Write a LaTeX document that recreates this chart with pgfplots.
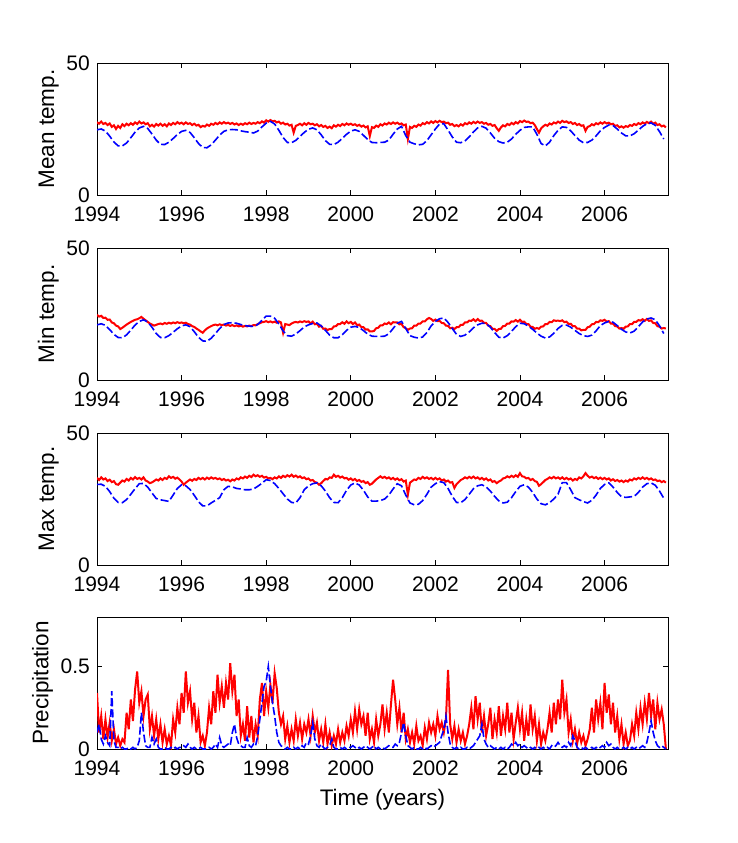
\documentclass[border=0pt]{standalone}
\usepackage{fontspec}
\setmainfont{Liberation Sans}
\usepackage{pgfplots}
\usepackage{pgfplotstable}
\pgfplotsset{compat=1.18}

% red series: one value every 0.05 year from 1994.00
\pgfplotstableread[row sep=\\,header=false]{
27.6\\27.0\\27.8\\26.9\\27.3\\26.5\\27.1\\25.8\\26.4\\25.0\\26.2\\25.4\\26.8\\26.1\\27.0\\26.4\\27.2\\26.6\\27.5\\26.9\\
27.8\\27.1\\27.5\\26.8\\27.2\\26.0\\26.6\\25.9\\26.9\\26.3\\27.0\\26.2\\26.8\\26.0\\27.1\\26.5\\27.3\\26.8\\27.6\\27.0\\
27.4\\26.8\\27.5\\26.9\\27.2\\26.5\\27.0\\26.3\\26.6\\25.7\\26.2\\25.9\\26.7\\26.2\\27.0\\26.6\\27.3\\26.8\\27.5\\27.0\\
27.6\\27.1\\27.4\\26.9\\27.3\\26.7\\27.1\\26.5\\27.0\\26.6\\27.2\\26.8\\27.4\\26.9\\27.3\\27.0\\27.6\\27.2\\27.9\\27.4\\
28.3\\27.8\\28.4\\27.9\\28.1\\27.5\\27.8\\27.0\\27.4\\26.7\\27.0\\26.3\\26.6\\23.6\\26.2\\26.5\\27.0\\26.4\\27.2\\26.6\\
27.3\\26.8\\27.0\\26.4\\26.8\\26.0\\26.5\\25.8\\26.2\\25.4\\25.9\\25.3\\26.4\\25.9\\26.6\\26.1\\26.9\\26.4\\27.1\\26.6\\
27.0\\26.5\\26.8\\26.2\\26.6\\25.9\\26.3\\25.6\\26.0\\22.3\\25.7\\25.4\\26.3\\25.8\\26.8\\26.3\\27.1\\26.7\\27.4\\26.9\\
27.5\\27.0\\27.4\\26.8\\27.1\\26.4\\26.7\\21.2\\25.8\\25.4\\26.2\\25.8\\26.7\\26.3\\27.2\\26.8\\27.6\\27.1\\27.9\\27.3\\
28.0\\27.5\\28.1\\27.6\\27.8\\27.2\\27.4\\26.6\\26.9\\26.1\\26.5\\26.0\\26.8\\26.3\\27.2\\26.8\\27.5\\27.0\\27.7\\27.2\\
27.8\\27.3\\27.6\\27.0\\27.3\\26.6\\26.9\\26.2\\26.5\\25.3\\24.3\\25.6\\26.4\\26.0\\26.9\\26.5\\27.3\\26.8\\27.6\\27.1\\
28.0\\27.6\\28.2\\27.7\\27.8\\27.2\\27.4\\26.5\\25.0\\23.6\\25.2\\26.0\\26.6\\26.2\\27.1\\26.7\\27.5\\27.1\\27.8\\27.3\\
28.1\\27.6\\27.9\\27.3\\27.6\\26.9\\27.3\\26.5\\26.9\\26.2\\26.4\\24.3\\25.8\\26.1\\26.8\\26.4\\27.2\\26.8\\27.5\\27.0\\
27.6\\27.1\\27.4\\26.8\\27.0\\26.2\\26.4\\25.6\\26.0\\25.5\\26.1\\25.8\\26.5\\26.2\\26.9\\26.5\\27.2\\26.8\\27.5\\27.0\\
27.7\\27.2\\27.8\\27.0\\27.4\\26.5\\26.8\\26.0\\26.3\\25.6\\
}\meanR

\pgfplotstableread[row sep=\\,header=false]{
24.7\\24.0\\24.3\\23.5\\23.6\\22.8\\22.9\\21.8\\21.5\\20.6\\20.3\\19.3\\19.8\\20.4\\21.0\\21.5\\22.0\\22.4\\22.8\\23.0\\
23.4\\23.9\\23.2\\22.6\\22.0\\21.4\\21.0\\20.6\\20.9\\21.2\\21.4\\21.1\\21.6\\21.3\\21.7\\21.4\\21.8\\21.5\\21.9\\21.6\\
21.8\\21.5\\21.7\\21.2\\21.0\\20.4\\20.1\\19.5\\19.0\\18.4\\17.9\\18.8\\19.5\\20.0\\20.4\\20.8\\21.0\\20.7\\21.1\\20.8\\
21.0\\20.6\\20.9\\20.5\\20.8\\20.4\\20.7\\20.3\\20.6\\20.2\\20.5\\20.3\\20.6\\20.4\\20.8\\20.7\\21.2\\21.5\\21.9\\22.0\\
22.3\\21.9\\22.2\\21.8\\22.1\\21.7\\22.2\\21.8\\17.9\\21.2\\21.0\\20.8\\21.4\\21.8\\22.0\\21.8\\22.2\\21.9\\22.3\\22.0\\
22.2\\21.4\\22.1\\21.1\\21.3\\20.2\\20.5\\19.4\\19.5\\18.9\\19.3\\19.3\\20.3\\20.4\\21.2\\21.2\\21.9\\21.3\\22.2\\21.5\\
22.0\\21.2\\21.8\\20.8\\21.0\\20.0\\20.0\\19.1\\19.2\\18.4\\18.4\\18.6\\19.6\\19.8\\20.7\\20.7\\21.4\\21.2\\21.8\\21.1\\
21.9\\21.8\\21.8\\21.1\\21.2\\20.0\\19.6\\19.0\\19.5\\19.6\\20.6\\20.6\\21.4\\21.4\\22.2\\22.2\\23.0\\23.5\\23.1\\22.4\\
22.9\\22.3\\22.4\\21.6\\21.5\\20.6\\20.5\\19.6\\19.8\\19.3\\20.0\\20.0\\20.9\\20.9\\21.8\\21.8\\22.5\\22.4\\23.0\\22.3\\
23.1\\22.4\\22.5\\21.6\\21.6\\20.6\\20.4\\19.4\\19.4\\18.6\\19.3\\19.4\\20.4\\20.5\\21.4\\21.4\\22.2\\22.1\\22.7\\22.1\\
22.8\\22.0\\22.1\\21.2\\21.2\\20.2\\20.1\\19.4\\19.7\\19.4\\20.2\\20.3\\21.2\\21.2\\22.0\\21.9\\22.6\\22.4\\22.5\\22.3\\
22.6\\21.9\\22.1\\21.2\\21.3\\20.4\\20.4\\19.5\\19.5\\18.8\\19.0\\19.0\\20.0\\20.2\\21.1\\21.2\\22.0\\21.9\\22.6\\22.4\\
22.8\\22.1\\22.3\\21.4\\21.4\\20.4\\20.3\\19.5\\19.7\\19.4\\20.2\\20.3\\21.2\\21.2\\22.0\\22.0\\22.7\\22.5\\23.0\\22.4\\
23.1\\22.4\\22.6\\21.6\\21.5\\20.4\\20.2\\19.5\\19.7\\19.5\\
}\minR

\pgfplotstableread[row sep=\\,header=false]{
33.0\\32.2\\33.2\\32.4\\32.8\\31.8\\32.3\\31.4\\31.8\\30.6\\30.4\\31.2\\32.0\\31.6\\32.6\\32.0\\33.0\\32.4\\33.3\\32.6\\
33.0\\32.4\\33.2\\32.0\\31.6\\31.0\\31.3\\31.8\\32.4\\32.0\\32.8\\32.2\\33.0\\32.6\\33.6\\33.0\\33.4\\32.7\\33.1\\32.4\\
31.6\\30.4\\31.2\\31.8\\32.4\\31.9\\32.6\\32.2\\33.0\\32.5\\33.0\\32.4\\33.1\\32.6\\33.2\\32.7\\33.0\\32.5\\32.8\\32.2\\
32.6\\32.0\\32.3\\31.7\\32.4\\32.0\\32.8\\32.4\\33.2\\32.8\\33.5\\33.0\\33.8\\33.3\\34.2\\33.6\\34.0\\33.4\\33.8\\33.1\\
33.4\\32.8\\33.0\\32.5\\33.2\\32.8\\33.6\\33.0\\33.8\\33.3\\34.0\\33.5\\34.2\\33.4\\33.9\\33.2\\33.6\\32.9\\33.2\\32.5\\
32.8\\32.0\\32.2\\31.4\\31.2\\30.4\\31.0\\31.8\\32.6\\32.4\\33.2\\33.0\\34.2\\33.4\\33.8\\33.1\\33.5\\32.8\\33.0\\32.3\\
32.8\\32.1\\32.6\\31.8\\32.2\\31.5\\31.8\\31.0\\31.4\\30.4\\30.8\\31.6\\32.4\\33.0\\33.6\\33.0\\33.4\\32.8\\33.2\\32.5\\
33.0\\32.3\\32.8\\32.1\\32.5\\31.6\\32.0\\26.6\\31.2\\31.8\\32.4\\32.2\\33.0\\32.6\\33.4\\32.8\\33.2\\32.6\\33.0\\32.4\\
33.0\\32.4\\32.8\\32.0\\32.4\\31.6\\32.0\\31.2\\31.4\\29.2\\30.6\\31.4\\32.2\\32.6\\33.2\\32.8\\33.4\\32.9\\33.5\\32.8\\
33.2\\32.5\\33.0\\32.3\\32.8\\32.0\\32.4\\31.5\\31.8\\31.0\\31.6\\32.0\\32.8\\33.0\\33.6\\33.2\\33.8\\33.3\\34.0\\33.4\\
34.8\\33.6\\33.4\\32.8\\33.0\\32.2\\32.6\\31.8\\31.5\\30.0\\30.6\\31.4\\32.2\\32.6\\33.2\\32.8\\33.4\\32.8\\33.2\\32.6\\
33.2\\32.5\\33.0\\32.4\\32.8\\32.0\\32.6\\32.2\\33.2\\32.8\\33.6\\34.8\\33.8\\33.1\\33.5\\32.9\\33.3\\32.6\\33.1\\32.5\\
33.0\\32.4\\32.8\\32.0\\32.5\\31.8\\32.2\\31.6\\32.0\\31.4\\32.0\\31.6\\32.4\\32.0\\32.8\\32.4\\33.0\\32.6\\33.2\\32.6\\
33.0\\32.4\\32.8\\32.2\\32.4\\31.8\\32.0\\31.4\\31.8\\31.2\\
}\maxR

\pgfplotstableread[row sep=\\,header=false]{
.34\\.10\\.20\\.06\\.18\\.07\\.16\\.05\\.12\\.03\\.07\\.02\\.06\\.04\\.22\\.12\\.30\\.17\\.36\\.47\\
.28\\.35\\.20\\.30\\.33\\.12\\.20\\.08\\.18\\.06\\.15\\.04\\.12\\.03\\.08\\.02\\.18\\.10\\.25\\.15\\
.34\\.22\\.47\\.28\\.35\\.18\\.28\\.10\\.20\\.04\\.08\\.02\\.10\\.25\\.15\\.35\\.22\\.45\\.28\\.38\\
.25\\.40\\.30\\.52\\.35\\.45\\.20\\.30\\.08\\.15\\.05\\.26\\.07\\.20\\.04\\.15\\.08\\.30\\.40\\.20\\
.35\\.25\\.39\\.28\\.46\\.37\\.22\\.15\\.20\\.06\\.14\\.04\\.12\\.05\\.18\\.08\\.16\\.06\\.15\\.10\\
.18\\.08\\.20\\.10\\.16\\.05\\.12\\.04\\.15\\.03\\.10\\.02\\.08\\.03\\.12\\.04\\.10\\.05\\.14\\.08\\
.18\\.10\\.23\\.12\\.24\\.15\\.20\\.08\\.22\\.06\\.12\\.04\\.18\\.08\\.15\\.27\\.12\\.22\\.10\\.27\\
.42\\.30\\.15\\.25\\.10\\.22\\.06\\.12\\.04\\.10\\.03\\.14\\.05\\.08\\.02\\.13\\.06\\.16\\.10\\.15\\
.08\\.20\\.12\\.16\\.10\\.18\\.48\\.15\\.06\\.14\\.04\\.12\\.05\\.10\\.03\\.08\\.15\\.25\\.12\\.32\\
.18\\.28\\.10\\.20\\.08\\.15\\.25\\.06\\.18\\.10\\.26\\.08\\.20\\.12\\.28\\.10\\.22\\.06\\.16\\.25\\
.12\\.22\\.05\\.18\\.08\\.27\\.12\\.20\\.05\\.15\\.03\\.10\\.05\\.12\\.22\\.10\\.28\\.15\\.30\\.18\\
.42\\.22\\.30\\.10\\.18\\.05\\.12\\.03\\.10\\.04\\.08\\.02\\.06\\.12\\.25\\.10\\.30\\.18\\.28\\.12\\
.40\\.22\\.33\\.15\\.28\\.10\\.20\\.06\\.15\\.03\\.10\\.02\\.05\\.15\\.08\\.22\\.12\\.25\\.15\\.28\\
.18\\.34\\.20\\.30\\.12\\.28\\.18\\.24\\.15\\0\\
}\precR

\pgfplotstableread[row sep=\\,header=false]{
.10\\.15\\.06\\.03\\.08\\.04\\.02\\.35\\.05\\.01\\.01\\.00\\.01\\.00\\.00\\.01\\.00\\.01\\.00\\.01\\
.05\\.22\\.10\\.02\\.01\\.01\\.07\\.03\\.06\\.01\\.00\\.00\\.01\\.00\\.00\\.01\\.00\\.01\\.00\\.01\\
.01\\.02\\.01\\.03\\.01\\.00\\.01\\.00\\.00\\.01\\.00\\.00\\.00\\.01\\.00\\.01\\.03\\.01\\.07\\.02\\
.01\\.02\\.03\\.02\\.10\\.15\\.07\\.03\\.02\\.01\\.01\\.07\\.02\\.01\\.03\\.02\\.08\\.18\\.28\\.38\\
.41\\.50\\.38\\.28\\.20\\.10\\.04\\.02\\.01\\.00\\.01\\.00\\.00\\.01\\.00\\.01\\.00\\.02\\.01\\.04\\
.03\\.08\\.16\\.06\\.02\\.01\\.03\\.01\\.00\\.01\\.02\\.06\\.01\\.00\\.00\\.01\\.00\\.01\\.00\\.01\\
.01\\.02\\.01\\.00\\.01\\.00\\.01\\.02\\.01\\.00\\.01\\.02\\.00\\.01\\.00\\.01\\.00\\.01\\.02\\.01\\
.01\\.03\\.02\\.04\\.10\\.16\\.08\\.02\\.01\\.00\\.01\\.00\\.00\\.01\\.00\\.01\\.00\\.01\\.02\\.01\\
.02\\.03\\.04\\.08\\.12\\.20\\.10\\.03\\.01\\.00\\.01\\.00\\.01\\.00\\.00\\.01\\.00\\.01\\.02\\.04\\
.06\\.08\\.15\\.06\\.03\\.01\\.02\\.01\\.00\\.01\\.00\\.01\\.00\\.01\\.00\\.01\\.03\\.02\\.04\\.02\\
.03\\.01\\.02\\.01\\.00\\.01\\.00\\.01\\.00\\.01\\.00\\.01\\.00\\.01\\.00\\.02\\.01\\.02\\.04\\.02\\
.01\\.02\\.01\\.04\\.02\\.08\\.05\\.01\\.00\\.01\\.00\\.01\\.00\\.00\\.01\\.00\\.01\\.00\\.01\\.02\\
.01\\.04\\.02\\.03\\.01\\.00\\.01\\.00\\.00\\.01\\.00\\.01\\.00\\.01\\.00\\.01\\.00\\.01\\.02\\.01\\
.04\\.10\\.17\\.10\\.05\\.02\\.01\\.02\\.01\\.00\\
}\precB

% blue series: one value every 0.1 year from 1994.0
\pgfplotstableread[row sep=\\,header=false]{
24.7\\25.0\\24.2\\22.3\\20.1\\18.6\\18.6\\19.7\\21.7\\23.8\\
25.4\\26.0\\25.2\\23.1\\20.8\\19.2\\19.1\\20.0\\21.4\\22.9\\
24.1\\24.5\\23.7\\21.7\\19.5\\18.0\\17.9\\19.0\\20.8\\22.7\\
24.1\\24.7\\24.8\\24.7\\24.3\\24.0\\23.8\\23.5\\24.2\\25.8\\
27.2\\27.9\\26.9\\24.5\\21.8\\19.9\\19.8\\20.7\\22.2\\23.7\\
24.9\\25.4\\24.7\\22.8\\20.6\\19.2\\19.1\\20.0\\21.5\\23.0\\
24.2\\24.7\\24.1\\22.6\\21.0\\19.9\\19.8\\19.9\\20.0\\20.8\\
23.0\\25.0\\26.0\\22.5\\20.0\\19.4\\19.0\\19.2\\20.6\\22.8\\
25.0\\26.9\\27.0\\24.6\\22.0\\20.0\\19.8\\20.5\\22.0\\23.9\\
25.4\\26.0\\25.3\\23.5\\21.5\\20.2\\19.7\\20.0\\21.2\\23.0\\
24.5\\25.6\\25.8\\25.8\\23.0\\19.5\\18.6\\20.0\\22.5\\24.5\\
25.8\\25.6\\24.3\\22.5\\20.8\\19.8\\19.9\\20.8\\22.4\\24.3\\
25.6\\26.5\\26.3\\25.0\\23.5\\22.4\\22.4\\23.2\\24.6\\26.0\\
27.0\\27.3\\26.4\\24.0\\21.2\\
}\meanB

\pgfplotstableread[row sep=\\,header=false]{
20.9\\21.3\\20.7\\19.1\\17.3\\16.1\\16.0\\17.1\\18.9\\20.8\\
22.2\\22.8\\22.0\\20.0\\17.6\\16.1\\16.0\\16.8\\18.1\\19.4\\
20.5\\20.9\\20.2\\18.3\\16.2\\14.8\\14.7\\15.8\\17.6\\19.5\\
21.0\\21.6\\21.7\\21.5\\21.0\\20.6\\20.4\\20.3\\21.0\\22.6\\
24.2\\24.2\\23.4\\21.2\\18.6\\16.8\\16.6\\17.4\\18.7\\20.1\\
20.9\\21.4\\21.6\\20.5\\18.8\\17.0\\16.0\\16.0\\17.2\\18.8\\
20.0\\20.3\\19.9\\18.7\\17.4\\16.6\\16.5\\16.5\\16.6\\17.5\\
19.5\\21.5\\22.2\\19.5\\16.8\\16.2\\15.9\\16.3\\18.0\\20.5\\
22.2\\23.2\\23.5\\21.8\\19.5\\17.3\\16.5\\17.0\\18.2\\19.8\\
20.9\\21.5\\21.4\\20.0\\18.0\\16.2\\15.9\\16.8\\18.4\\20.2\\
21.5\\21.3\\20.4\\19.2\\17.8\\16.6\\15.9\\16.3\\17.7\\19.5\\
20.7\\20.8\\20.0\\18.8\\17.6\\16.8\\16.5\\17.0\\18.6\\20.6\\
21.6\\22.2\\21.9\\20.6\\19.2\\18.2\\17.8\\18.5\\20.2\\22.0\\
23.1\\23.5\\22.8\\20.5\\17.6\\
}\minB

\pgfplotstableread[row sep=\\,header=false]{
30.5\\30.6\\29.8\\27.8\\25.3\\23.7\\23.6\\24.8\\26.8\\28.9\\
30.8\\30.9\\29.5\\27.3\\25.2\\24.7\\24.4\\24.1\\26.5\\29.0\\
30.4\\30.0\\28.6\\26.4\\24.0\\22.4\\22.4\\23.5\\24.5\\25.5\\
28.5\\29.8\\29.6\\29.0\\28.8\\28.5\\28.5\\28.8\\29.8\\31.0\\
32.3\\32.0\\30.8\\29.0\\27.0\\25.0\\23.7\\23.5\\25.5\\28.5\\
30.0\\30.8\\31.1\\30.0\\28.0\\25.5\\23.7\\23.6\\25.5\\28.3\\
30.3\\31.1\\30.3\\28.3\\25.8\\24.2\\24.2\\24.4\\25.0\\26.5\\
28.8\\30.8\\30.0\\26.5\\23.5\\22.8\\23.0\\24.4\\26.8\\29.5\\
30.8\\31.6\\31.2\\29.0\\26.0\\23.7\\23.6\\24.8\\26.8\\28.9\\
30.0\\30.4\\29.6\\28.0\\26.0\\24.3\\23.5\\23.8\\25.5\\27.8\\
29.8\\30.4\\29.5\\27.5\\25.0\\23.2\\22.8\\23.6\\25.0\\26.8\\
31.2\\31.2\\28.5\\25.5\\24.7\\24.0\\23.5\\24.5\\26.5\\29.0\\
30.5\\31.1\\29.5\\27.5\\25.9\\25.6\\25.8\\26.0\\27.5\\29.5\\
30.8\\31.1\\30.2\\28.0\\25.3\\
}\maxB

\pgfplotsset{
  panel/.style={
    scale only axis, width=571pt, height=132pt, anchor=north west,
    xmin=1994, xmax=2007.5,
    xtick={1994,1996,...,2006},
    tick align=inside, major tick length=5pt,
    tick pos=both, xticklabel pos=lower, yticklabel pos=left,
    /pgf/number format/assume math mode=true,
    ticklabel style={font=\fontsize{21}{24}\selectfont, inner sep=1pt},
    xticklabel style={/pgf/number format/1000 sep={}, yshift=-11pt},
    yticklabel style={xshift=-6pt},
    label style={font=\fontsize{22.5}{26}\selectfont},
    ylabel shift=3pt, xlabel shift=9pt,
    axis line style={line width=0.7pt},
    every tick/.style={line width=0.7pt, black},
  },
  redl/.style={red, line width=2pt, no markers},
  bluel/.style={blue, line width=1.6pt, dash pattern=on 8pt off 3pt, no markers},
}

\begin{document}
\begin{tikzpicture}
\path[use as bounding box] (0,0) rectangle (738pt,-843pt);

\begin{axis}[panel, at={(97pt,-63pt)}, ymin=0, ymax=50, ytick={0,50}, ylabel={Mean temp.}]
\addplot[redl] table[x expr=1994+0.05*\coordindex, y index=0] {\meanR};
\addplot[bluel] table[x expr=1994+0.1*\coordindex, y index=0] {\meanB};
\end{axis}

\begin{axis}[panel, at={(97pt,-248pt)}, ymin=0, ymax=50, ytick={0,50}, ylabel={Min temp.}]
\addplot[redl] table[x expr=1994+0.05*\coordindex, y index=0] {\minR};
\addplot[bluel] table[x expr=1994+0.1*\coordindex, y index=0] {\minB};
\end{axis}

\begin{axis}[panel, at={(97pt,-433pt)}, ymin=0, ymax=50, ytick={0,50}, ylabel={Max temp.}]
\addplot[redl] table[x expr=1994+0.05*\coordindex, y index=0] {\maxR};
\addplot[bluel] table[x expr=1994+0.1*\coordindex, y index=0] {\maxB};
\end{axis}

\begin{axis}[panel, at={(97pt,-617pt)}, ymin=0, ymax=0.8, ytick={0,0.5}, ylabel={Precipitation}, xlabel={Time (years)}]
\addplot[redl] table[x expr=1994+0.05*\coordindex, y index=0] {\precR};
\addplot[bluel] table[x expr=1994+0.05*\coordindex, y index=0] {\precB};
\end{axis}
\end{tikzpicture}
\end{document}
